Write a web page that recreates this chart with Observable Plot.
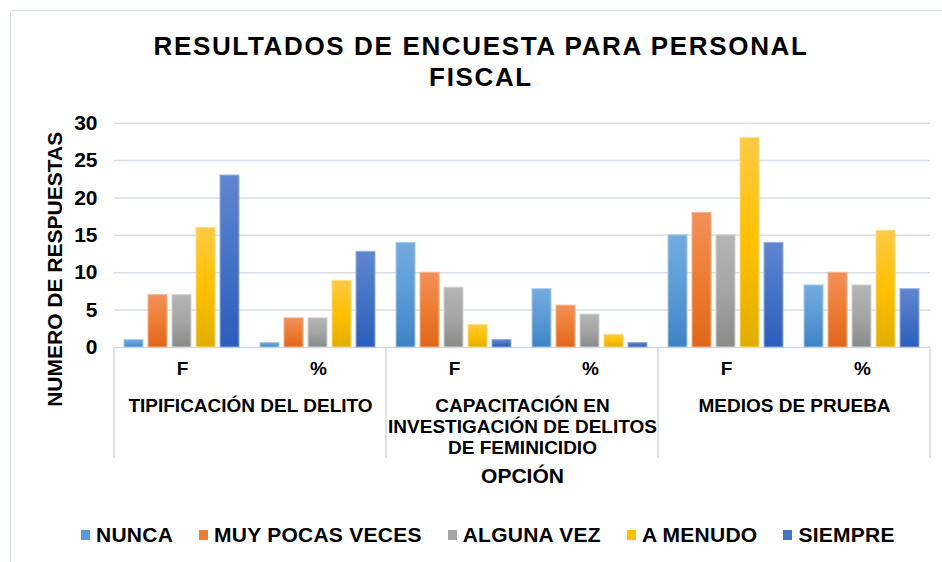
<!DOCTYPE html>
<html><head><meta charset="utf-8">
<script src="https://cdn.jsdelivr.net/npm/d3@7"></script>
<script src="https://cdn.jsdelivr.net/npm/@observablehq/plot@0.6"></script>
<style>
body{margin:0;background:#fff;font-family:"Liberation Sans",Arial,sans-serif;}
#wrap{position:relative;width:942px;height:562px;overflow:hidden;background:#fff;}
#border{position:absolute;left:10px;top:10px;width:980px;height:620px;border:1.5px solid #d9dfea;border-radius:3px;}
#title{position:absolute;left:10px;width:942px;top:31px;text-align:center;font-weight:bold;font-size:26px;line-height:31px;letter-spacing:1.65px;color:#000;}
#chart{position:absolute;left:0;top:100px;}
#legend{position:absolute;left:81px;top:523px;display:flex;align-items:center;font-weight:bold;font-size:21px;line-height:24px;letter-spacing:0.25px;color:#000;white-space:nowrap;}
.item{display:flex;align-items:center;margin-right:26px}
.sw{width:9px;height:10px;margin-right:6px}
</style></head>
<body>
<div id="wrap">
  <div id="border"></div>
  <div id="title"></div>
  <div id="chart"></div>
  <div id="legend"></div>
</div>
<script>
// ---- data ----
const titleLines = ["RESULTADOS DE ENCUESTA PARA PERSONAL", "FISCAL"];
const yTitle = "NUMERO DE RESPUESTAS";
const xTitle = "OPCIÓN";
const series = ["NUNCA", "MUY POCAS VECES", "ALGUNA VEZ", "A MENUDO", "SIEMPRE"];
const groups = ["TIPIFICACIÓN DEL DELITO", "CAPACITACIÓN EN\nINVESTIGACIÓN DE DELITOS\nDE FEMINICIDIO", "MEDIOS DE PRUEBA"];
const subs = ["F", "%"];
const yTicks = [0, 5, 10, 15, 20, 25, 30];
// order: Tip F, Tip %, Cap F, Cap %, Med F, Med %
const nunca    = [1, 0.6, 14, 7.8, 15, 8.3];
const muyPocas = [7, 3.9, 10, 5.6, 18, 10];
const alguna   = [7, 3.9, 8, 4.4, 15, 8.3];
const aMenudo  = [16, 8.9, 3, 1.7, 28, 15.6];
const siempre  = [23, 12.8, 1, 0.6, 14, 7.8];
const seriesValues = [nunca, muyPocas, alguna, aMenudo, siempre];

// ---- style ----
const solid  = ["#5B9BD5", "#ED7D31", "#A5A5A5", "#FFC000", "#4472C4"];
const gTop   = ["#74abdf", "#f2905a", "#b5b5b5", "#ffca45", "#6186d0"];
const gBot   = ["#3d83c5", "#e0661a", "#8a8a8a", "#e0ae00", "#2d5dbd"];
const edge   = ["#a9cbec", "#f5b48e", "#d2d2d2", "#ffdd80", "#97afe0"];
const font = '"Liberation Sans", Arial, sans-serif';

// ---- build table ----
const keys = [];
groups.forEach((g, gi) => subs.forEach(s => keys.push(gi + "|" + s)));
const rows = [];
series.forEach((s, si) => seriesValues[si].forEach((v, k) => rows.push({key: keys[k], series: s, si, value: v})));
const subRows = keys.map((k, i) => ({key: k, sub: subs[i % subs.length]}));
const groupRows = groups.map((g, gi) => ({key: gi + "|" + subs[0], label: g}));

document.getElementById("title").innerHTML = titleLines.join("<br>");

const plot = Plot.plot({
  width: 942,
  height: 400,
  marginLeft: 113,
  marginRight: 12,
  marginTop: 22.7,
  marginBottom: 153,
  fx: {domain: keys, padding: 0, axis: null},
  x: {domain: series, paddingInner: 0.2, paddingOuter: 0.4, axis: null},
  y: {domain: [0, 30], axis: null},
  color: {type: "identity"},
  style: {fontFamily: font, color: "#000", background: "transparent", overflow: "visible"},
  marks: [
    Plot.ruleY(yTicks.filter(t => t > 0), {stroke: "#d9dde6", strokeWidth: 1.5}),
    Plot.ruleY([0], {stroke: "#d3d9e6", strokeWidth: 1.5}),
    Plot.barY(rows, {fx: "key", x: "series", y: "value",
      fill: d => "url(#grad" + d.si + ")", stroke: d => edge[d.si], strokeWidth: 1}),
    Plot.axisY({ticks: yTicks, tickSize: 0, tickPadding: 17, fontSize: 21, fontWeight: "bold", label: null, tickFormat: d => String(d)}),
    Plot.text(subRows, {fx: "key", text: "sub", frameAnchor: "bottom", textAnchor: "middle", lineAnchor: "middle", dy: 21, fontSize: 19, fontWeight: "bold"}),
    Plot.text(groupRows, {fx: "key", text: "label", frameAnchor: "bottom-right", textAnchor: "middle", lineAnchor: "top", dy: 50, lineHeight: 1.105, fontSize: 19, fontWeight: "bold"}),
    Plot.text([{key: keys[2], t: xTitle}], {fx: "key", text: "t", frameAnchor: "bottom-right", textAnchor: "middle", lineAnchor: "middle", dy: 129, fontSize: 21, fontWeight: "bold"}),
    Plot.text([{key: keys[0], t: yTitle}], {fx: "key", text: "t", frameAnchor: "left", textAnchor: "middle", lineAnchor: "middle", rotate: -90, dx: -59, dy: 34, fontSize: 21, fontWeight: "bold"})
  ]
});

// gradients
const svg = d3.select(plot);
const defs = svg.insert("defs", ":first-child");
series.forEach((s, i) => {
  const g = defs.append("linearGradient").attr("id", "grad" + i).attr("x1", 0).attr("y1", 0).attr("x2", 0).attr("y2", 1);
  g.append("stop").attr("offset", "0%").attr("stop-color", gTop[i]);
  g.append("stop").attr("offset", "50%").attr("stop-color", solid[i]);
  g.append("stop").attr("offset", "100%").attr("stop-color", gBot[i]);
});

// category separators from the library's scales
const fxs = plot.scale("fx");
const ys = plot.scale("y");
const y0 = ys.apply(0);
const bw = fxs.bandwidth;
const sepX = [];
groups.forEach((g, gi) => sepX.push(fxs.apply(gi + "|" + subs[0])));
sepX.push(fxs.apply(keys[keys.length - 1]) + bw);
svg.append("g").selectAll("line").data(sepX).join("line")
  .attr("x1", d => d).attr("x2", d => d)
  .attr("y1", y0).attr("y2", y0 + 111)
  .attr("stroke", "#d3d9e6").attr("stroke-width", 1.5);

document.getElementById("chart").appendChild(plot);

// legend
const leg = d3.select("#legend");
series.forEach((s, i) => {
  const it = leg.append("div").attr("class", "item");
  it.append("div").attr("class", "sw").style("background", solid[i]);
  it.append("span").text(s);
});
</script>
</body></html>
